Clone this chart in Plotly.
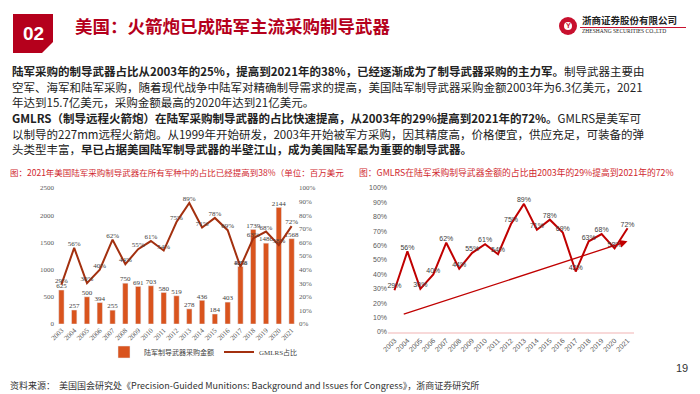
import plotly.graph_objects as go

# ---------------- data ----------------
years = list(range(2003, 2022))
year_labels = [str(y) for y in years]
army_spend = [625, 257, 500, 394, 255, 750, 691, 703, 580, 519, 278, 436, 184, 403, 1058, 1739, 1486, 2144, 1568]
gmlrs_share = [29, 56, 30, 40, 62, 44, 55, 61, 54, 75, 89, 71, 78, 69, 42, 63, 68, 58, 72]
trend_years = [2003.6, 2021]
trend_share = [12, 63]
left_ticks = [0, 500, 1000, 1500, 2000, 2500]
pct_ticks = [0, 10, 20, 30, 40, 50, 60, 70, 80, 90, 100]

W, H = 700, 394
def px(x): return x / W
def py(y): return 1 - y / H

CJK = "Noto Sans CJK SC"
SERIF = "Liberation Serif, Noto Sans CJK SC"
SANS = "Liberation Sans, Noto Sans CJK SC"
BAR = "#D9541E"
LINE_L = "#A3300F"

share_frac = [v / 100 for v in gmlrs_share]

fig = go.Figure()

# left chart: bars
fig.add_trace(go.Bar(
    x=years, y=army_spend, name="陆军制导武器采购金额",
    marker_color=BAR, width=0.42, xaxis="x", yaxis="y",
))
fig.add_trace(go.Scatter(
    x=years, y=army_spend, mode="text", showlegend=False,
    text=[str(v) for v in army_spend], textposition="top center",
    textfont=dict(family=SERIF, size=7, color="#404040"),
    cliponaxis=False, xaxis="x", yaxis="y", hoverinfo="skip",
))
# left chart: line
fig.add_trace(go.Scatter(
    x=years, y=share_frac, name="GMLRS占比", mode="lines+text",
    line=dict(color=LINE_L, width=2),
    text=[f"{v}%" for v in gmlrs_share], textposition="top center",
    textfont=dict(family=SERIF, size=7, color="#404040"),
    cliponaxis=False, xaxis="x", yaxis="y2",
))
# right chart: line
fig.add_trace(go.Scatter(
    x=years, y=share_frac, mode="lines+text", showlegend=False,
    line=dict(color="#C00000", width=2),
    text=[f"{v}%" for v in gmlrs_share], textposition="top center",
    textfont=dict(family=SANS, size=7, color="#404040"),
    cliponaxis=False, xaxis="x2", yaxis="y3",
))

fig.add_annotation(
    x=trend_years[1], y=trend_share[1] / 100, ax=trend_years[0], ay=trend_share[0] / 100,
    xref="x2", yref="y3", axref="x2", ayref="y3", text="", showarrow=True,
    arrowhead=2, arrowsize=1.2, arrowwidth=1.3, arrowcolor="#C00000",
)

tickfont_l = dict(family=SERIF, size=7, color="#595959")
tickfont_r = dict(family=SANS, size=7, color="#595959")

fig.update_layout(
    width=W, height=H, autosize=False,
    margin=dict(l=0, r=0, t=0, b=0, autoexpand=False),
    paper_bgcolor="white", plot_bgcolor="rgba(0,0,0,0)",
    xaxis=dict(domain=[px(55), px(298)], range=[2002.5, 2021.5], tickvals=years,
               ticktext=year_labels, tickangle=-45, tickfont=tickfont_l, automargin=False,
               showgrid=False, zeroline=False, showline=False, anchor="y", ticks=""),
    yaxis=dict(domain=[py(324), py(188)], range=[0, 2500], tickvals=left_ticks, automargin=False,
               tickfont=tickfont_l, showgrid=False, zeroline=False, anchor="x", ticks=""),
    yaxis2=dict(overlaying="y", side="right", range=[0, 1], tickvals=[v / 100 for v in pct_ticks],
                ticktext=[f"{v}%" for v in pct_ticks], tickfont=tickfont_l, automargin=False,
                showgrid=False, zeroline=False, anchor="x"),
    xaxis2=dict(domain=[px(388), px(634)], range=[2002.5, 2021.5], tickvals=years,
                ticktext=year_labels, tickangle=-45, tickfont=tickfont_r, automargin=False,
                showgrid=False, zeroline=False, showline=True, linecolor="#F8D9D9",
                linewidth=1.5, anchor="y3", ticks=""),
    yaxis3=dict(domain=[py(332), py(188)], range=[0, 1], tickvals=[v / 100 for v in pct_ticks],
                ticktext=[f"{v}%" for v in pct_ticks], tickfont=tickfont_r, automargin=False,
                showgrid=False, zeroline=False, anchor="x2", ticks=""),
    legend=dict(orientation="h", x=px(104), y=py(352), xanchor="left", yanchor="middle",
                font=dict(family=SERIF, size=7, color="#404040"), bgcolor="rgba(0,0,0,0)",
                itemwidth=30, tracegroupgap=0),
    showlegend=True,
)

# ---------------- header ----------------
box = (f"M {px(13)} {py(14)} L {px(53)} {py(14)} L {px(53)} {py(42)} "
       f"L {px(42)} {py(53)} L {px(13)} {py(53)} Z")
shapes = [
    dict(type="path", path=box, xref="paper", yref="paper", fillcolor="#B5001C", line_width=0),
    dict(type="circle", xref="paper", yref="paper", x0=px(559), x1=px(577), y0=py(35), y1=py(17),
         fillcolor="#C8102E", line_width=0),
    dict(type="circle", xref="paper", yref="paper", x0=px(564), x1=px(572), y0=py(30), y1=py(22),
         fillcolor="white", line_width=0),
    dict(type="line", xref="paper", yref="paper", x0=px(580), x1=px(686), y0=py(27.5), y1=py(27.5),
         line=dict(color="#C8102E", width=1)),
]
fig.update_layout(shapes=shapes)

def txt(x, y, s, size, color="#222", family=CJK, xanchor="left", yanchor="middle"):
    fig.add_annotation(x=px(x), y=py(y), xref="paper", yref="paper", text=s, showarrow=False,
                       xanchor=xanchor, yanchor=yanchor, align="left",
                       font=dict(family=family, size=size, color=color))

txt(33, 33.5, "<b>02</b>", 19, "white", "Liberation Sans", xanchor="center")
txt(73, 26, "<b>美国：火箭炮已成陆军主流采购制导武器</b>", 17.5, "#B5001C")
txt(568, 26, "<b>Y</b>", 7, "#C8102E", "Liberation Sans", xanchor="center")
txt(580, 20.5, "<b>浙商证券股份有限公司</b>", 9.5, "#222")
txt(580, 31.5, "ZHESHANG SECURITIES CO.,LTD", 5.5, "#222", "Liberation Serif")

# ---------------- paragraphs ----------------
p = 11.5
txt(10, 71, "<b>陆军采购的制导武器占比从2003年的25%，提高到2021年的38%，已经逐渐成为了制导武器采购的主力军。</b>制导武器主要由", p)
txt(10, 86.5, "空军、海军和陆军采购，随着现代战争中陆军对精确制导需求的提高，美国陆军制导武器采购金额2003年为6.3亿美元，2021", p)
txt(10, 102, "年达到15.7亿美元，采购金额最高的2020年达到21亿美元。", p)
txt(10, 118, "<b>GMLRS（制导远程火箭炮）在陆军采购制导武器的占比快速提高，从2003年的29%提高到2021年的72%。</b>GMLRS是美军可", p)
txt(10, 133.5, "以制导的227mm远程火箭炮。从1999年开始研发，2003年开始被军方采购，因其精度高，价格便宜，供应充足，可装备的弹", p)
txt(10, 149, "头类型丰富，<b>早已占据美国陆军制导武器的半壁江山，成为美国陆军最为重要的制导武器。</b>", p)

# ---------------- chart titles ----------------
txt(8, 172, "图：2021年美国陆军采购制导武器在所有军种中的占比已经提高到38%（单位：百万美元", 8.5, "#D0282E")
txt(357, 172, "图：GMLRS在陆军采购制导武器金额的占比由2003年的29%提高到2021年的72%", 8.8, "#D0282E")

# ---------------- footer ----------------
txt(8, 385, "资料来源：  美国国会研究处《Precision-Guided Munitions: Background and Issues for Congress》，浙商证券研究所", 9, "#333")
txt(690, 368, "19", 11, "#333", "Liberation Sans", xanchor="right")

fig.write_html("out.html", config={"displayModeBar": False},
               post_script="document.body.style.margin='0';document.body.style.overflow='hidden';")
